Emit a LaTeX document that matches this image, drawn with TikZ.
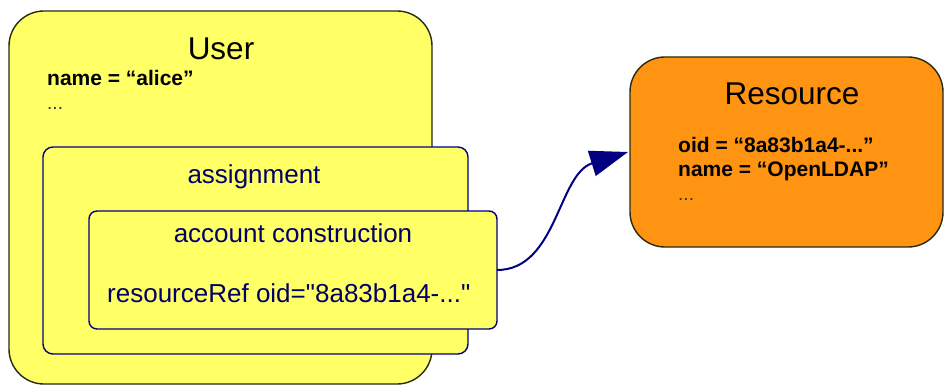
\documentclass[tikz,border=0pt]{standalone}
\usepackage{fontspec}
\setmainfont{Liberation Sans}
\newfontfamily\rawsans{Liberation Sans}
\usetikzlibrary{arrows.meta}
\definecolor{boxyellow}{HTML}{FFFF66}
\definecolor{resorange}{HTML}{FF9412}
\definecolor{navyline}{HTML}{000080}
\definecolor{userline}{HTML}{2A2A10}
\begin{document}
\begin{tikzpicture}[x=1pt,y=-1pt,
  outerbox/.style={draw=userline, line width=1.4pt, fill=boxyellow, rounded corners=35pt, anchor=north west, inner sep=0pt, outer sep=0pt},
  innerbox/.style={draw=navyline, line width=1.4pt, fill=boxyellow, anchor=north west, inner sep=0pt, outer sep=0pt},
  resbox/.style={draw=userline, line width=1.4pt, fill=resorange, rounded corners=35pt, anchor=north west, inner sep=0pt, outer sep=0pt},
  title/.style={inner sep=0pt, font=\fontsize{31.5}{36}\selectfont, text=black},
  plain/.style={inner sep=0pt, font=\rawsans\fontsize{26}{30}\selectfont, text=navyline!80!black},
  attr/.style={inner sep=0pt, font=\fontsize{21}{24}\bfseries\selectfont, text=black, anchor=base west},
  dots/.style={inner sep=0pt, font=\fontsize{19}{22}\selectfont, text=black!80, anchor=base west},
  conn/.style={draw=navyline, line width=2pt, -{Triangle[length=38pt,width=26pt]}}
]
\useasboundingbox (0,0) rectangle (944,385);
\node[outerbox, minimum width=423pt, minimum height=373pt] (user) at (9,11) {};
\node[innerbox, rounded corners=10pt, minimum width=425pt, minimum height=207pt] (assign) at (43,147) {};
\node[innerbox, rounded corners=8pt, minimum width=408pt, minimum height=118pt] (account) at (89,211) {};
\node[resbox, minimum width=313pt, minimum height=190pt] (resource) at (630,57) {};

\node[title, anchor=base] (usert) at (221,60) {User};
\node[attr] (uname) at (47,86) {name = “alice”};
\node[dots] (udots) at (47,110) {...};

\node[plain, anchor=base] (assignt) at (254,183) {assignment};
\node[plain, anchor=base] (acct) at (293,242) {account construction};
\node[plain, anchor=base west] (resref) at (107,302) {resourceRef oid="8a83b1a4-..."};

\node[title, anchor=base] (rest) at (792,105) {Resource};
\node[attr] (roid) at (678,152) {oid = “8a83b1a4-...”};
\node[attr] (rname) at (678,176) {name = “OpenLDAP”};
\node[dots] (rdots) at (678,200) {...};

\draw[conn] (account.east) .. controls +(60,0) and +(-70,22) .. ([xshift=-2pt]resource.west);
\end{tikzpicture}
\end{document}
